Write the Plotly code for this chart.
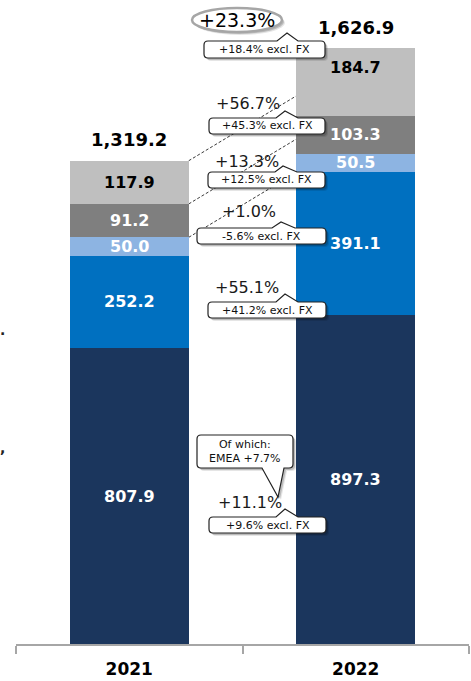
import plotly.graph_objects as go

# ---- data -------------------------------------------------------------
years = ["2021", "2022"]
navy_vals = [807.9, 897.3]
blue_vals = [252.2, 391.1]
light_blue_vals = [50.0, 50.5]
dark_gray_vals = [91.2, 103.3]
light_gray_vals = [117.9, 184.7]

# growth excluding FX: total, then segments from top to bottom
excl_fx_total = "+18.4%"
excl_fx_segments = ["+45.3%", "+12.5%", "-5.6%", "+41.2%", "+9.6%"]
emea_note = "Of which:<br>EMEA +7.7%"

# ---- styling ----------------------------------------------------------
FONT = "DejaVu Sans"
W, H = 471, 681
L, R, T, B = 16, 2, 0, 37
PW, PH = W - L - R, H - T - B
YMAX = 1758.0
BAR_W = 0.525

series = [
    (navy_vals, "#1B365D", "white"),
    (blue_vals, "#0070C0", "white"),
    (light_blue_vals, "#8DB4E2", "white"),
    (dark_gray_vals, "#7F7F7F", "white"),
    (light_gray_vals, "#BFBFBF", "black"),
]


def paper(px, py):
    """Pixel position inside the window -> paper coordinates."""
    return (px - L) / PW, (H - B - py) / PH


fig = go.Figure()
for vals, color, _ in series:
    fig.add_trace(go.Bar(
        x=years, y=vals, width=BAR_W, marker=dict(color=color, line=dict(width=0)),
        showlegend=False, hoverinfo="skip"))

annotations = []
shapes = []

# segment value labels, centred in each segment (x given as category index)
for i, yr in enumerate(years):
    base = 0.0
    for j, (vals, color, tcolor) in enumerate(series):
        v = vals[i]
        shift = 14 if (j == len(series) - 1 and i == 1) else 0
        annotations.append(dict(
            x=i, y=base + v / 2, xref="x", yref="y", text=f"<b>{v:.1f}</b>",
            showarrow=False, yshift=shift, xanchor="center", yanchor="middle",
            font=dict(family=FONT, size=16, color=tcolor)))
        base += v
    annotations.append(dict(
        x=i, y=base, xref="x", yref="y", text=f"<b>{base:,.1f}</b>",
        showarrow=False, yshift=21, xanchor="center", yanchor="middle",
        font=dict(family=FONT, size=18, color="black")))

totals = [sum(s[0][i] for s in series) for i in range(2)]

# dotted connectors from the 2021 column toward the 2022 column
RISE = 177.0
bounds_2021 = [totals[0],
               totals[0] - light_gray_vals[0],
               totals[0] - light_gray_vals[0] - dark_gray_vals[0]]
for b in bounds_2021:
    shapes.append(dict(type="line", xref="x", yref="y", layer="below",
                       x0=BAR_W / 2, x1=1 - BAR_W / 2, y0=b, y1=b + RISE,
                       line=dict(color="#3a3a3a", width=1, dash="3px,2px")))


def fmt(pts):
    out = []
    for cmd, coords in pts:
        s = cmd
        for (px, py) in coords:
            xp, yp = paper(px, py)
            s += f" {xp:.5f},{yp:.5f}"
        out.append(s)
    return " ".join(out) + " Z"


def box_path(x0, y0, x1, y1, r=4, top_ptr=None, bottom_ptr=None, dx=0, dy=0):
    x0, x1, y0, y1 = x0 + dx, x1 + dx, y0 + dy, y1 + dy
    pts = [("M", [(x0 + r, y0)])]
    if top_ptr:
        bx0, bx1, ax, ay = top_ptr
        pts += [("L", [(bx0 + dx, y0)]), ("L", [(ax + dx, ay + dy)]), ("L", [(bx1 + dx, y0)])]
    pts += [("L", [(x1 - r, y0)]), ("Q", [(x1, y0), (x1, y0 + r)]),
            ("L", [(x1, y1 - r)]), ("Q", [(x1, y1), (x1 - r, y1)])]
    if bottom_ptr:
        bx0, bx1, ax, ay = bottom_ptr
        pts += [("L", [(bx1 + dx, y1)]), ("L", [(ax + dx, ay + dy)]), ("L", [(bx0 + dx, y1)])]
    pts += [("L", [(x0 + r, y1)]), ("Q", [(x0, y1), (x0, y1 - r)]),
            ("L", [(x0, y0 + r)]), ("Q", [(x0, y0), (x0 + r, y0)])]
    return fmt(pts)


def add_text(px, py, text, size=16, color="#1a1a1a"):
    xp, yp = paper(px, py)
    annotations.append(dict(x=xp, y=yp, xref="paper", yref="paper", text=text,
                            xanchor="center", yanchor="middle",
                            showarrow=False, font=dict(family=FONT, size=size, color=color)))


def add_box(x0, y0, x1, y1, text, top_ptr=None, bottom_ptr=None, size=11):
    for d, a in ((3, 0.10), (2, 0.18)):
        shapes.append(dict(type="path", xref="paper", yref="paper",
                           path=box_path(x0, y0, x1, y1, top_ptr=top_ptr,
                                         bottom_ptr=bottom_ptr, dx=d, dy=d),
                           fillcolor=f"rgba(0,0,0,{a})", line=dict(width=0)))
    shapes.append(dict(type="path", xref="paper", yref="paper",
                       path=box_path(x0, y0, x1, y1, top_ptr=top_ptr, bottom_ptr=bottom_ptr),
                       fillcolor="white", line=dict(color="#222222", width=1.2)))
    add_text((x0 + x1) / 2, (y0 + y1) / 2, text, size=size, color="#111111")


def growth(a, b):
    return f"{(b / a - 1) * 100:+.1f}%"


# total growth inside an ellipse
for d, a in ((3, 0.10), (2, 0.18)):
    ex0, ey0 = paper(192 + d, 32 + d)
    ex1, ey1 = paper(282 + d, 8 + d)
    shapes.append(dict(type="circle", xref="paper", yref="paper",
                       x0=ex0, y0=ey0, x1=ex1, y1=ey1,
                       fillcolor=f"rgba(0,0,0,{a})", line=dict(width=0)))
ex0, ey0 = paper(192, 32)
ex1, ey1 = paper(282, 8)
shapes.append(dict(type="circle", xref="paper", yref="paper", x0=ex0, y0=ey0, x1=ex1, y1=ey1,
                   fillcolor="white", line=dict(color="#A6A6A6", width=2.5)))
add_text(237, 20, growth(totals[0], totals[1]), size=19, color="black")
add_box(204, 41, 325, 58, f"{excl_fx_total} excl. FX", top_ptr=(277, 298, 287, 33))

# segment growth callouts, top segment first
seg_top_down = [light_gray_vals, dark_gray_vals, light_blue_vals, blue_vals, navy_vals]
text_pos = [(248, 104), (247, 162), (249, 212), (247, 287), (250, 502)]
box_pos = [(209, 118, 325, 134, (276, 298, 285, 111)),
           (208, 172, 325, 188, (275, 297, 283, 166)),
           (197, 228, 326, 244, (272, 295, 281, 222)),
           (208, 302, 326, 318, (276, 298, 285, 294)),
           (209, 517, 326, 533, (276, 298, 285, 509))]

add_box(197, 435, 293, 468, emea_note, bottom_ptr=(262, 284, 278, 497), size=11)

for vals, (tx, ty), (bx0, by0, bx1, by1, ptr), fx in zip(seg_top_down, text_pos, box_pos,
                                                          excl_fx_segments):
    add_text(tx, ty, growth(vals[0], vals[1]), size=16)
    add_box(bx0, by0, bx1, by1, f"{fx} excl. FX", top_ptr=ptr)

# fragments of the neighbouring text column at the left edge
for py, ch in ((330, "."), (448, ",")):
    xp, yp = paper(7, py)
    annotations.append(dict(x=xp, y=yp, xref="paper", yref="paper", text=f"<b>{ch}</b>",
                            xanchor="right", yanchor="middle", showarrow=False,
                            font=dict(family=FONT, size=14, color="#222222")))

fig.update_layout(
    width=W, height=H, margin=dict(l=L, r=R, t=T, b=B),
    barmode="stack", bargap=0,
    paper_bgcolor="white", plot_bgcolor="white",
    shapes=shapes, annotations=annotations,
    xaxis=dict(type="category", range=[-0.5, 1.5], showline=True, linecolor="#A6A6A6",
               linewidth=2, ticks="outside", tickson="boundaries", ticklen=8,
               tickcolor="#A6A6A6", tickwidth=2, showgrid=False, zeroline=False,
               ticklabelstandoff=9,
               tickfont=dict(family=FONT, size=17, color="black", weight="bold")),
    yaxis=dict(range=[0, YMAX], visible=False, showgrid=False, zeroline=False),
)

fig.write_html("out.html")
